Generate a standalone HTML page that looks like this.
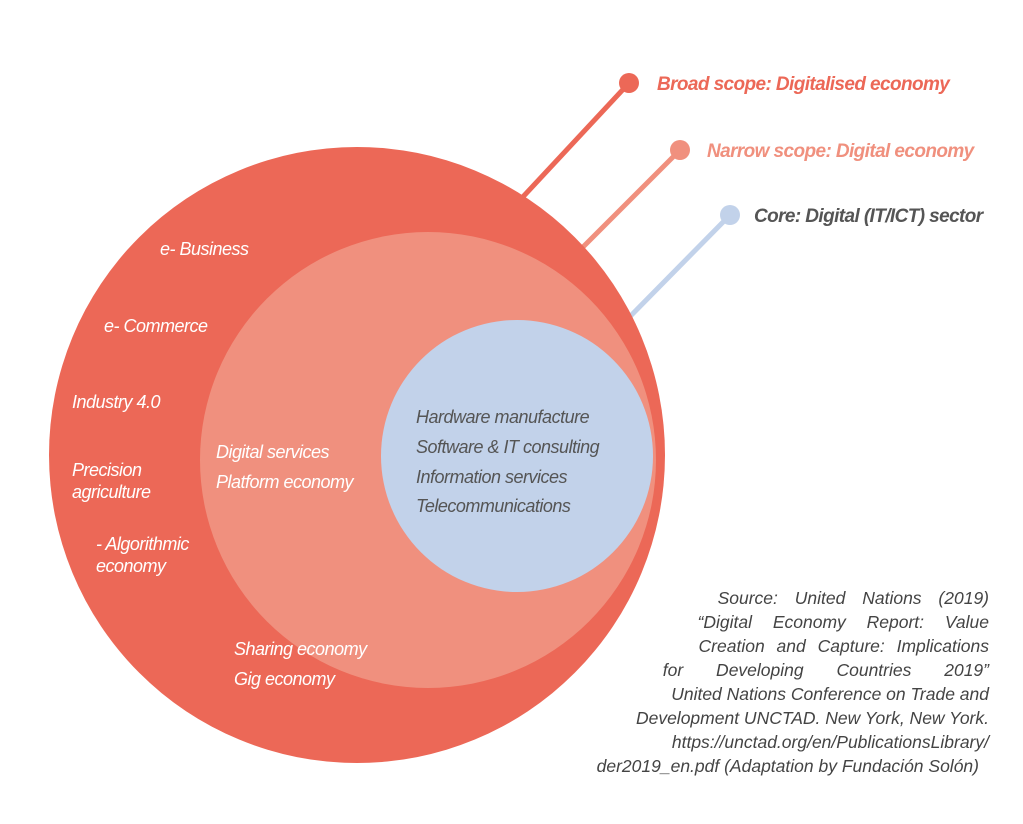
<!DOCTYPE html>
<html><head><meta charset="utf-8"><style>
body{margin:0;background:#fff;}
svg text{font-family:"Liberation Sans",sans-serif;font-style:italic;}
</style></head><body>
<svg width="1023" height="819" viewBox="0 0 1023 819" xmlns="http://www.w3.org/2000/svg">
<rect width="1023" height="819" fill="#fff"/>
<line x1="629" y1="83" x2="520" y2="200" stroke="#ec6857" stroke-width="5"/>
<circle cx="629" cy="83" r="10" fill="#ec6857"/>
<line x1="680" y1="150" x2="555" y2="275" stroke="#f0907e" stroke-width="5"/>
<circle cx="680" cy="150" r="10" fill="#f0907e"/>
<line x1="730" y1="215" x2="597" y2="350" stroke="#c2d2ea" stroke-width="5"/>
<circle cx="730" cy="215" r="10" fill="#c2d2ea"/>
<circle cx="357" cy="455" r="308" fill="#ec6857"/>
<circle cx="428" cy="460" r="228" fill="#f0907e"/>
<circle cx="517" cy="456" r="136" fill="#c2d2ea"/>
<g fill="#fff" font-size="18" letter-spacing="-0.5">
<text x="160" y="255">e- Business</text>
<text x="104" y="332">e- Commerce</text>
<text x="72" y="408">Industry 4.0</text>
<text x="72" y="476">Precision</text>
<text x="72" y="498">agriculture</text>
<text x="96" y="550">- Algorithmic</text>
<text x="96" y="572">economy</text>
<text x="216" y="458">Digital services</text>
<text x="216" y="488">Platform economy</text>
<text x="234" y="655">Sharing economy</text>
<text x="234" y="685">Gig economy</text>
</g>
<g fill="#555" font-size="18" letter-spacing="-0.5">
<text x="416" y="423">Hardware manufacture</text>
<text x="416" y="453">Software &amp; IT consulting</text>
<text x="416" y="483">Information services</text>
<text x="416" y="512">Telecommunications</text>
</g>
<g font-size="19" font-weight="bold" letter-spacing="-0.6">
<text x="657" y="90" fill="#ec6857">Broad scope: Digitalised economy</text>
<text x="707" y="157" fill="#f0907e">Narrow scope: Digital economy</text>
<text x="754" y="222" fill="#555">Core: Digital (IT/ICT) sector</text>
</g>
<g fill="#444" font-size="17.5" text-anchor="end">
<text x="989" y="604" word-spacing="12">Source: United Nations (2019)</text>
<text x="989" y="628" word-spacing="16">“Digital Economy Report: Value</text>
<text x="989" y="652" word-spacing="7">Creation and Capture: Implications</text>
<text x="989" y="676" word-spacing="28">for Developing Countries 2019”</text>
<text x="989" y="700">United Nations Conference on Trade and</text>
<text x="989" y="724">Development UNCTAD. New York, New York.</text>
<text x="989" y="748">https://unctad.org/en/PublicationsLibrary/</text>
<text x="979" y="772">der2019_en.pdf (Adaptation by Fundación Solón)</text>
</g>
</svg>
</body></html>
